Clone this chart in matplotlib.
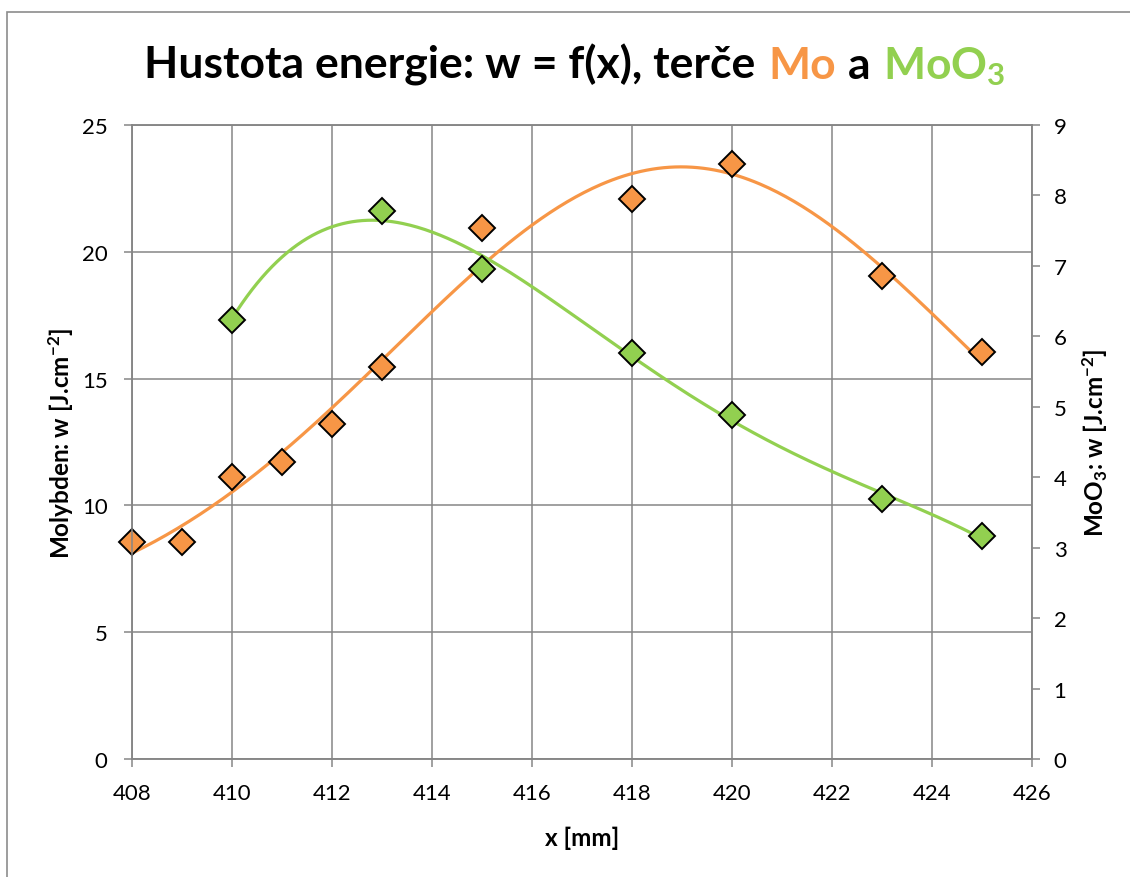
# Hustota energie w = f(x) pro terce Mo a MoO3

import numpy as np
import matplotlib
matplotlib.use("Agg")
import matplotlib.pyplot as plt
from matplotlib.offsetbox import TextArea, HPacker, AnchoredOffsetbox
from matplotlib.patches import Rectangle

# namerena data
x_mo = [408, 409, 410, 411, 412, 413, 415, 418, 420, 423, 425]
w_mo = [8.56, 8.56, 11.13, 11.70, 13.20, 15.45, 20.94, 22.08, 23.46, 19.03, 16.04]
x_moo3 = [410, 413, 415, 418, 420, 423, 425]
w_moo3 = [6.23, 7.78, 6.96, 5.76, 4.88, 3.69, 3.16]

x_ticks = list(range(408, 427, 2))
left_ticks = [0, 5, 10, 15, 20, 25]
right_ticks = list(range(0, 10))

ORANGE = "#F79646"
GREEN = "#92D050"
GRID = "#868686"

plt.rcParams["font.family"] = ["Lato", "DejaVu Sans"]
plt.rcParams["mathtext.fontset"] = "custom"
plt.rcParams["mathtext.rm"] = "Lato:bold"
plt.rcParams["mathtext.it"] = "Lato:bold"
plt.rcParams["mathtext.bf"] = "Lato:bold"


def gauss_fit(x, y):
    # y = a + b*exp(-(x-c)^2 / (2 s^2)), hledani c a s na mrizce, a,b linearne
    x = np.asarray(x, float)
    y = np.asarray(y, float)
    cs = np.arange(412.0, 424.0, 0.02)
    ss = np.arange(2.0, 10.0, 0.02)
    C, S = np.meshgrid(cs, ss, indexing="ij")
    g = np.exp(-(x[None, None, :] - C[..., None]) ** 2 / (2 * S[..., None] ** 2))
    gm = g.mean(-1, keepdims=True)
    ym = y.mean()
    b = ((g - gm) * (y - ym)).sum(-1) / ((g - gm) ** 2).sum(-1)
    a = ym - b * gm[..., 0]
    sse = ((y - a[..., None] - b[..., None] * g) ** 2).sum(-1)
    i, j = np.unravel_index(np.argmin(sse), sse.shape)
    return a[i, j], b[i, j], cs[i], ss[j]


fig = plt.figure(figsize=(11.3, 8.78), dpi=100)
ax = fig.add_axes([132 / 1130, 1 - 760 / 878, 900 / 1130, 634 / 878])
ax2 = ax.twinx()

# Mo - prolozeni gaussovkou
a, b, c, s = gauss_fit(x_mo, w_mo)
xf = np.linspace(min(x_mo), max(x_mo), 300)
ax.plot(xf, a + b * np.exp(-(xf - c) ** 2 / (2 * s ** 2)), color=ORANGE, lw=2.3,
        zorder=3, clip_on=False)
ax.plot(x_mo, w_mo, ls="none", marker="D", ms=13, mfc=ORANGE, mec="black", mew=1.4,
        zorder=4, clip_on=False)

# MoO3 - prolozeni polynomem 4. radu
p = np.polyfit(x_moo3, w_moo3, 4)
xf2 = np.linspace(min(x_moo3), max(x_moo3), 300)
ax2.plot(xf2, np.polyval(p, xf2), color=GREEN, lw=2.3, zorder=3)
ax2.plot(x_moo3, w_moo3, ls="none", marker="D", ms=13, mfc=GREEN, mec="black", mew=1.4,
         zorder=4, clip_on=False)

ax.set_xlim(408, 426)
ax.set_ylim(0, 25)
ax2.set_ylim(0, 9)
ax.set_xticks(x_ticks)
ax.set_yticks(left_ticks)
ax2.set_yticks(right_ticks)

ax.grid(True, color=GRID, lw=1.1)
ax.set_axisbelow(True)
for sp in list(ax.spines.values()) + list(ax2.spines.values()):
    sp.set_color(GRID)
    sp.set_linewidth(1.1)

ax.tick_params(axis="both", direction="out", length=5.5, width=1.1, color=GRID,
               labelsize=16, labelcolor="black")
ax.tick_params(axis="y", pad=12)
ax.tick_params(axis="x", pad=12)
ax2.tick_params(axis="y", direction="out", length=5.5, width=1.1, color=GRID,
                labelsize=16, labelcolor="black", pad=10)

ax.set_xlabel("x [mm]", fontsize=17.5, fontweight="bold", labelpad=16)
ax.set_ylabel("Molybden: w [J.cm$^{-2}$]", fontsize=17.5, fontweight="bold", labelpad=4)
ax2.set_ylabel("MoO$_3$: w [J.cm$^{-2}$]", fontsize=17.5, fontweight="bold", labelpad=10)

# nadpis s barevnymi castmi
tp = dict(fontsize=32, fontweight="bold")
parts = [
    TextArea("Hustota energie: w = f(x), terče", textprops=dict(color="black", **tp)),
    TextArea("Mo", textprops=dict(color=ORANGE, **tp)),
    TextArea("a", textprops=dict(color="black", **tp)),
    TextArea("MoO$_3$", textprops=dict(color=GREEN, **tp)),
]
box = HPacker(children=parts, align="baseline", pad=0, sep=9)
title = AnchoredOffsetbox(loc="center", child=box, pad=0, frameon=False,
                          bbox_to_anchor=(0.509, 0.925), bbox_transform=fig.transFigure)
fig.add_artist(title)

# ramecek grafu
fig.add_artist(Rectangle((7 / 1130, -0.2), 2, 1.2 - 13 / 878, transform=fig.transFigure,
                         fill=False, edgecolor="#8c8c8c", lw=1.2))

fig.savefig("out.png", dpi=100)
